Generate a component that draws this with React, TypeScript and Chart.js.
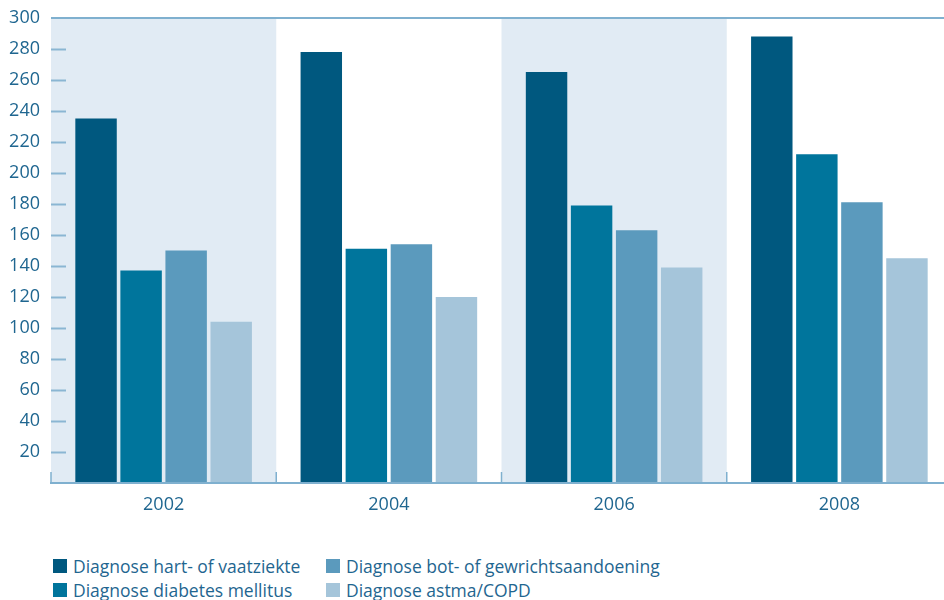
import React, { useEffect, useRef } from "react";
import { Chart, registerables } from "chart.js";

Chart.register(...registerables);

const years = ["2002", "2004", "2006", "2008"];
const hartVaat = [235, 278, 265, 288];
const diabetes = [137, 151, 179, 212];
const botGewricht = [150, 154, 163, 181];
const astmaCopd = [104, 120, 139, 145];
const yTicks = [20, 40, 60, 80, 100, 120, 140, 160, 180, 200, 220, 240, 260, 280, 300];

const seriesNames = [
  "Diagnose hart- of vaatziekte",
  "Diagnose diabetes mellitus",
  "Diagnose bot- of gewrichtsaandoening",
  "Diagnose astma/COPD",
];
const colors = ["#00587f", "#00759c", "#5b9abd", "#a5c5da"];
const textColor = "#1f6690";
const lineColor = "#7fb0cf";
const bandColor = "#e1ebf4";
const fontFamily = "'Open Sans', sans-serif";

const bandsPlugin = {
  id: "bands",
  beforeDraw(chart: any) {
    const { ctx, chartArea } = chart;
    const x = chart.scales.x;
    const n = years.length;
    const w = (x.right - x.left) / n;
    ctx.save();
    ctx.fillStyle = bandColor;
    for (let i = 0; i < n; i += 2) {
      const c = x.getPixelForValue(i);
      ctx.fillRect(c - w / 2, chartArea.top, w, chartArea.bottom - chartArea.top);
    }
    ctx.restore();
  },
  afterDatasetsDraw(chart: any) {
    const { ctx, chartArea } = chart;
    const x = chart.scales.x;
    const y = chart.scales.y;
    const n = years.length;
    const w = (x.right - x.left) / n;
    ctx.save();
    ctx.strokeStyle = "#8ab6d3";
    ctx.lineWidth = 2;
    for (const v of yTicks) {
      if (v === 300) continue;
      const py = Math.round(y.getPixelForValue(v)) + 0.5;
      ctx.beginPath();
      ctx.moveTo(chartArea.left, py);
      ctx.lineTo(chartArea.left + 15, py);
      ctx.stroke();
    }
    ctx.strokeStyle = lineColor;
    ctx.lineWidth = 1.5;
    for (let i = 0; i <= n; i++) {
      const px = x.getPixelForValue(0) - w / 2 + i * w;
      ctx.beginPath();
      ctx.moveTo(px, chartArea.bottom - 11);
      ctx.lineTo(px, chartArea.bottom);
      ctx.stroke();
    }
    ctx.restore();
  },
};

export default function App() {
  const ref = useRef<HTMLCanvasElement | null>(null);
  useEffect(() => {
    if (!ref.current) return;
    const data = [hartVaat, diabetes, botGewricht, astmaCopd];
    const chart = new Chart(ref.current, {
      type: "bar",
      data: {
        labels: years,
        datasets: data.map((d, i) => ({
          label: seriesNames[i],
          data: d,
          backgroundColor: colors[i],
          borderWidth: 0,
          categoryPercentage: 0.8,
          barPercentage: 0.92,
        })),
      },
      options: {
        animation: false,
        responsive: false,
        maintainAspectRatio: false,
        layout: { padding: { top: 12, right: 0, left: 0, bottom: 0 } },
        plugins: { legend: { display: false }, tooltip: { enabled: false } },
        scales: {
          x: {
            grid: { display: false, drawTicks: false },
            border: { display: true, color: lineColor, width: 2 },
            ticks: {
              color: textColor,
              font: { family: fontFamily, size: 18 },
              padding: 11,
            },
            afterFit(scale: any) {
              scale.height = 48;
            },
          },
          y: {
            min: 0,
            max: 300,
            grid: {
              drawTicks: false,
              color: (c: any) => (c.tick && c.tick.value === 300 ? lineColor : "rgba(0,0,0,0)"),
              lineWidth: 2,
            },
            border: { display: false },
            ticks: {
              stepSize: 20,
              color: textColor,
              font: { family: fontFamily, size: 18 },
              padding: 11,
              callback: (v: any) => (v === 0 ? "" : String(v)),
            },
            afterFit(scale: any) {
              scale.width = 51;
            },
          },
        },
      },
      plugins: [bandsPlugin],
    });
    return () => chart.destroy();
  }, []);

  const legendOrder = [0, 1, 2, 3];
  return (
    <div
      style={{
        position: "absolute",
        left: 0,
        top: 0,
        width: 944,
        height: 600,
        overflow: "hidden",
        background: "#fff",
      }}
    >
      <canvas
        ref={ref}
        width={952}
        height={535}
        style={{ display: "block", position: "absolute", left: 0, top: -4 }}
      />
      <div
        style={{
          position: "absolute",
          left: 53,
          top: 554,
          display: "grid",
          gridTemplateRows: "24px 24px",
          gridAutoFlow: "column",
          gridTemplateColumns: "273px auto",
          fontFamily,
          fontSize: 17.5,
          color: textColor,
        }}
      >
        {legendOrder.map((i) => (
          <div key={i} style={{ display: "flex", alignItems: "center", lineHeight: "24px" }}>
            <span
              style={{
                display: "inline-block",
                width: 14,
                height: 14,
                background: colors[i],
                marginRight: 6,
              }}
            />
            <span>{seriesNames[i]}</span>
          </div>
        ))}
      </div>
    </div>
  );
}
